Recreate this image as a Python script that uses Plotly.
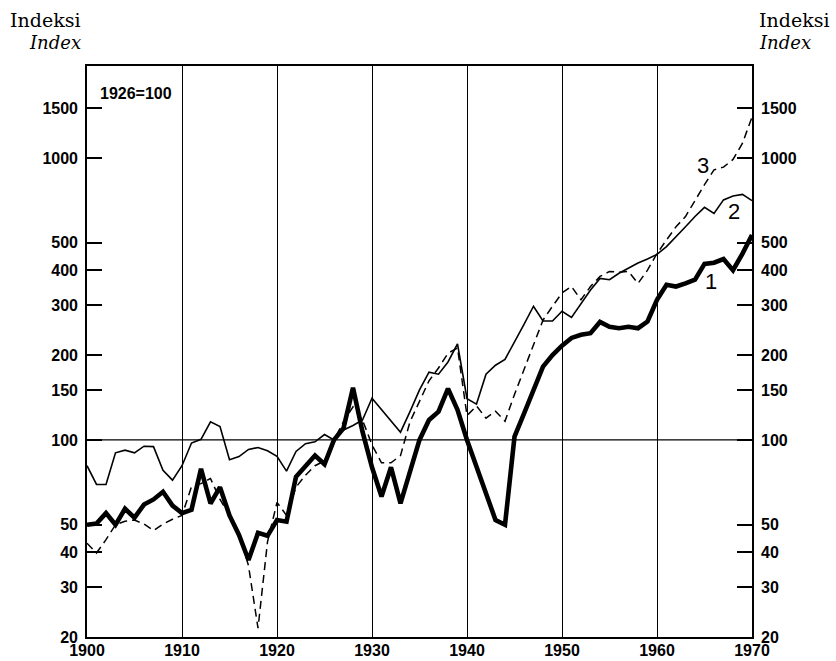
import plotly.graph_objects as go

years = list(range(1900, 1971))

# Series 1 (thick solid)
series1 = [50, 50.5, 55, 50, 57, 53, 59, 61.5, 65.5, 58.5,
           55, 56.5, 79, 59.5, 68, 54, 46, 37.5, 46.8, 45.7,
           52, 51.3, 74, 81, 88, 82, 100, 110, 153, 107,
           80, 63, 80, 59.6, 78.3, 100, 117.7, 126, 152, 128,
           100, 80, 64.7, 52, 50, 102.7, 124, 150, 182, 200,
           216, 230, 236, 239, 262, 252, 249, 252, 249, 263,
           314, 355, 350, 359, 370, 421, 425, 438, 400, 458,
           533]

# Series 2 (thin solid)
series2 = [81, 69.5, 69.5, 90, 92, 90, 95, 94.7, 78, 72,
           81, 97.5, 100.5, 116, 111.5, 85, 87.3, 92.5, 94, 91.5,
           87.5, 77.5, 91, 97, 98.5, 104.5, 100, 108.5, 112.5, 117.7,
           140.5, 127.7, 117, 106.5, 126, 150.5, 174, 171, 189, 219,
           140, 134, 171, 184, 193, 222, 257, 298, 264, 264,
           286, 272, 305, 340, 374, 370, 390, 406, 424, 438,
           455, 485, 528, 570, 620, 668, 636, 710, 733, 743,
           706]

# Series 3 (dashed)
series3 = [43, 39.7, 44.3, 50, 51.5, 52, 50.3, 47.7, 50.3, 52.3,
           54, 68.3, 70, 73, 61.5, 54, 46.7, 35.8, 21.5, 43.5,
           60, 54, 68, 75, 81, 84.3, 100, 116, 131, 117.7,
           96, 83, 83, 88, 116, 137, 162, 180, 203, 212,
           122, 132, 119.4, 126.5, 116.5, 145, 178, 218, 266, 298,
           332, 350, 314, 350, 380, 396, 393, 396, 359, 400,
           458, 512, 570, 620, 710, 804, 908, 928, 988, 1128,
           1397]

y_tickvals = [20, 30, 40, 50, 100, 150, 200, 300, 400, 500, 1000, 1500]
y_ticktext = ["20", "30", "40", "50", "100", "150", "200", "300", "400", "500", "1000", "1500"]
x_tickvals = [1900, 1910, 1920, 1930, 1940, 1950, 1960, 1970]

W, H = 836, 661
# plot box in page pixels
BL, BR, BT, BB = 87, 752, 66, 637
L, R, T, B = BL, W - BR, BT, H - BB
PW, PH = W - L - R, H - T - B


def px(xp):
    return (xp - BL) / PW


def py(yp):
    return (BB - yp) / PH


fig = go.Figure()
fig.add_trace(go.Scatter(x=years, y=series3, mode="lines",
                         line=dict(color="black", width=1.5, dash="8px,5px"),
                         showlegend=False, hoverinfo="skip"))
fig.add_trace(go.Scatter(x=years, y=series2, mode="lines",
                         line=dict(color="black", width=1.6),
                         showlegend=False, hoverinfo="skip"))
fig.add_trace(go.Scatter(x=years, y=series1, mode="lines",
                         line=dict(color="black", width=4.6),
                         showlegend=False, hoverinfo="skip"))
# invisible trace to anchor right axis
fig.add_trace(go.Scatter(x=[years[0]], y=[series1[0]], mode="markers",
                         marker=dict(opacity=0), yaxis="y2",
                         showlegend=False, hoverinfo="skip"))

tickfont = dict(family="Liberation Sans, Arial", size=16, color="black", weight="bold")
yr = [1.30103, 3.3262]

fig.update_layout(
    width=W, height=H, autosize=False,
    margin=dict(l=L, r=R, t=T, b=B, pad=0, autoexpand=False),
    paper_bgcolor="white", plot_bgcolor="white",
    xaxis=dict(range=[1900, 1970], tickvals=x_tickvals, ticks="",
               showgrid=True, gridcolor="black", gridwidth=1.2,
               showline=True, linecolor="black", linewidth=1.6, mirror=True,
               tickfont=tickfont, zeroline=False, ticklabelstandoff=-2),
    yaxis=dict(type="log", range=yr, tickvals=y_tickvals, ticktext=y_ticktext,
               ticks="inside", ticklen=15, tickwidth=1.6, tickcolor="black",
               showgrid=False, showline=True, linecolor="black", linewidth=1.6,
               tickfont=tickfont, zeroline=False, ticklabelstandoff=4),
    yaxis2=dict(type="log", range=yr, tickvals=y_tickvals, ticktext=y_ticktext,
                overlaying="y", side="right",
                ticks="inside", ticklen=15, tickwidth=1.6, tickcolor="black",
                showgrid=False, showline=True, linecolor="black", linewidth=1.6,
                tickfont=tickfont, zeroline=False, ticklabelstandoff=4),
)

fig.add_shape(type="line", xref="paper", yref="y", x0=0, x1=1, y0=100, y1=100,
              line=dict(color="black", width=1.2))

serif = "DejaVu Serif, Liberation Serif, serif"
sans = "Liberation Sans, Arial"
ann = [
    dict(text="Indeksi", x=px(83), y=py(20), xanchor="right", yanchor="middle",
         font=dict(family=serif, size=19, color="black")),
    dict(text="<i>Index</i>", x=px(83), y=py(42), xanchor="right", yanchor="middle",
         font=dict(family=serif, size=18, color="black")),
    dict(text="Indeksi", x=px(757), y=py(20), xanchor="left", yanchor="middle",
         font=dict(family=serif, size=19, color="black")),
    dict(text="<i>Index</i>", x=px(757), y=py(42), xanchor="left", yanchor="middle",
         font=dict(family=serif, size=18, color="black")),
    dict(text="1926=100", x=px(136), y=py(93), xanchor="center", yanchor="middle",
         font=dict(family=sans, size=16, color="black", weight="bold")),
    dict(text="3", x=px(703), y=py(165), xanchor="center", yanchor="middle",
         font=dict(family=sans, size=22, color="black")),
    dict(text="2", x=px(734), y=py(212), xanchor="center", yanchor="middle",
         font=dict(family=sans, size=22, color="black")),
    dict(text="1", x=px(711), y=py(281), xanchor="center", yanchor="middle",
         font=dict(family=sans, size=22, color="black")),
]
for a in ann:
    fig.add_annotation(xref="paper", yref="paper", showarrow=False, **a)

# remove the default page margin so the figure fills the window exactly
fig.write_html("out.html", config={"displayModeBar": False},
               post_script="document.body.style.margin='0';")
